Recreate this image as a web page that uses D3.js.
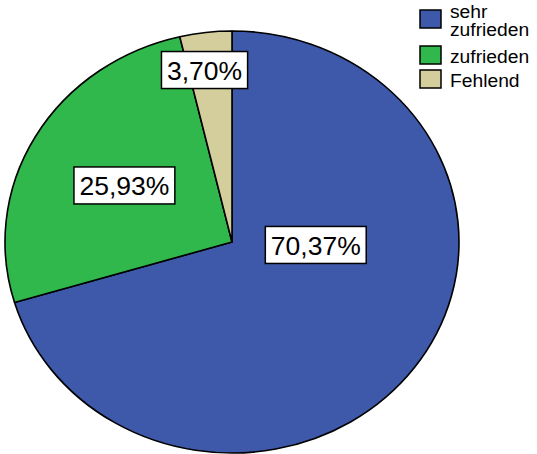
<!DOCTYPE html>
<html>
<head>
<meta charset="utf-8">
<script src="https://cdn.jsdelivr.net/npm/d3@7"></script>
<style>
  body { margin: 0; background: #fff; }
  svg { display: block; font-family: "Liberation Sans", Arial, sans-serif; }
</style>
</head>
<body>
<div id="chart"></div>
<script>
// Data
const categories = ["sehr zufrieden", "zufrieden", "Fehlend"];
const percents = [70.37, 25.93, 3.70];
const colors = ["#3e58aa", "#30b84c", "#d3ce9b"];

// label spots inside the pie, in units of the radius (SPSS placed them by hand)
const labelSpots = [[0.369, 0.014], [-0.474, -0.268], [-0.121, -0.815]];

const width = 537, height = 454;
const cx = 232, cy = 242, rx = 227, ry = 211;

const svg = d3.select("#chart").append("svg")
    .attr("width", width)
    .attr("height", height);

// unit-circle to ellipse scales
const xs = d3.scaleLinear().domain([-1, 1]).range([cx - rx, cx + rx]);
const ys = d3.scaleLinear().domain([-1, 1]).range([cy - ry, cy + ry]);

const pie = d3.pie().sort(null).value(d => d)(percents);
const arc = d3.arc().innerRadius(0).outerRadius(1);

// Slices drawn on a unit circle, stretched into the ellipse
svg.append("g")
    .attr("transform", `translate(${cx},${cy}) scale(${rx},${ry})`)
    .selectAll("path")
    .data(pie)
    .join("path")
    .attr("d", arc)
    .attr("fill", (d, i) => colors[i])
    .attr("stroke", "#000")
    .attr("stroke-width", 1.6)
    .attr("stroke-linejoin", "round")
    .attr("vector-effect", "non-scaling-stroke");

// Percent labels in white boxes
const fmt = v => v.toFixed(2).replace(".", ",") + "%";
const labels = svg.append("g").selectAll("g")
    .data(percents)
    .join("g")
    .attr("transform", (d, i) => `translate(${xs(labelSpots[i][0])},${ys(labelSpots[i][1])})`);

labels.append("rect")
    .attr("fill", "#fff")
    .attr("stroke", "#000")
    .attr("stroke-width", 1.5);

labels.append("text")
    .attr("text-anchor", "middle")
    .attr("dy", "0.36em")
    .attr("font-size", "26.5px")
    .attr("fill", "#000")
    .text(d => fmt(d));

labels.each(function() {
    const g = d3.select(this);
    const w = g.select("text").node().getBBox().width + 11;
    g.select("rect")
        .attr("x", -w / 2)
        .attr("y", -18.5)
        .attr("width", w)
        .attr("height", 37);
});

// Legend (text slightly stretched, like the rest of the SPSS output)
const legendRows = [
    { lines: ["sehr", "zufrieden"], top: 10, base: 18 },
    { lines: ["zufrieden"], top: 46, base: 63 },
    { lines: ["Fehlend"], top: 70, base: 87 }
];
const legend = svg.append("g");
const rows = legend.selectAll("g")
    .data(legendRows)
    .join("g");

rows.append("rect")
    .attr("x", 420)
    .attr("y", d => d.top)
    .attr("width", 21)
    .attr("height", 18)
    .attr("fill", (d, i) => colors[i])
    .attr("stroke", "#000")
    .attr("stroke-width", 1.5);

rows.append("text")
    .attr("transform", d => `translate(450,${d.base}) scale(1.07,1)`)
    .attr("font-size", "18px")
    .attr("fill", "#000")
    .selectAll("tspan")
    .data(d => d.lines)
    .join("tspan")
    .attr("x", 0)
    .attr("y", (t, j) => j * 18.5)
    .text(t => t);
</script>
</body>
</html>
